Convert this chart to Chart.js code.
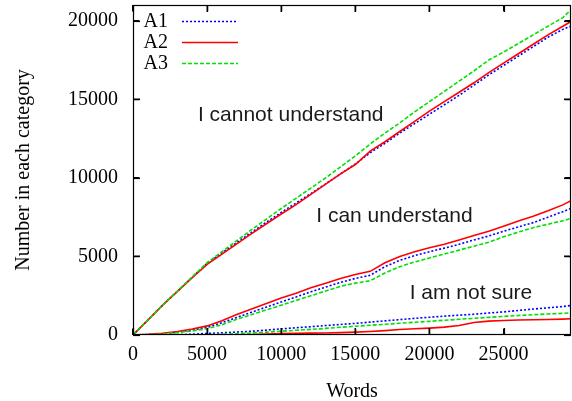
<!DOCTYPE html>
<html>
<head>
<meta charset="utf-8">
<script src="https://cdn.jsdelivr.net/npm/chart.js@4.4.0/dist/chart.umd.min.js"></script>
<style>
  html, body { margin: 0; padding: 0; background: #fff; }
  #wrap { width: 572px; height: 401px; }
</style>
</head>
<body>
<div id="wrap"><canvas id="c" width="572" height="401"></canvas></div>
<script>
// ---- Data ----
const words = [0,1000,2000,3000,4000,5000,6000,7000,8000,9000,10000,11000,12000,13000,14000,15000,16000,17000,18000,19000,20000,21000,22000,23000,24000,25000,26000,27000,28000,29000,29550];

// "I cannot understand"
const cannotA1 = [0,950,1900,2790,3680,4550,5220,5880,6530,7180,7800,8400,9000,9620,10250,10880,11600,12200,12850,13450,14050,14650,15250,15900,16550,17150,17750,18350,18950,19450,19650];
const cannotA2 = [0,950,1900,2780,3650,4500,5150,5800,6450,7080,7700,8300,8950,9600,10250,10850,11700,12300,12950,13600,14250,14850,15450,16050,16700,17300,17900,18500,19100,19650,19950];
const cannotA3 = [0,950,1900,2800,3700,4600,5300,6000,6700,7380,8050,8700,9350,10000,10700,11400,12150,12850,13500,14200,14850,15500,16150,16800,17500,18000,18550,19100,19650,20200,20700];

// "I can understand"
const canA1 = [0,30,90,180,320,480,780,1120,1450,1780,2100,2420,2750,3050,3350,3600,3800,4350,4750,5050,5300,5530,5770,6050,6300,6600,6880,7150,7500,7850,8050];
const canA2 = [0,40,110,220,380,580,900,1300,1650,2000,2350,2650,3000,3300,3600,3850,4050,4600,5000,5300,5550,5780,6050,6330,6600,6920,7250,7560,7900,8280,8550];
const canA3 = [0,20,70,150,260,400,650,1000,1300,1600,1900,2200,2500,2800,3100,3300,3450,3950,4350,4650,4900,5150,5400,5650,5900,6250,6550,6830,7050,7270,7420];

// "I am not sure"
const notSureA1 = [0,0,10,20,50,100,140,190,240,310,390,460,530,600,670,740,820,900,980,1060,1130,1200,1260,1320,1400,1470,1560,1650,1730,1810,1880];
const notSureA2 = [0,0,0,0,0,5,10,20,30,60,100,110,120,130,150,180,220,280,350,400,440,500,600,800,880,920,950,970,990,1010,1030];
const notSureA3 = [0,0,0,5,10,20,40,80,130,180,240,300,360,420,490,560,620,680,750,810,870,940,1000,1060,1120,1180,1240,1290,1340,1380,1410];

const seriesNames = ['A1', 'A2', 'A3'];
const xTicks = [0, 5000, 10000, 15000, 20000, 25000];
const yTicks = [0, 5000, 10000, 15000, 20000];
const xMax = 29550;
const yMax = 21000;
const categoryLabels = ['I cannot understand', 'I can understand', 'I am not sure'];
// label anchor (words, count) for each category text
const categoryLabelX = [10640, 17640, 22800];
const categoryLabelY = [13990, 7570, 2645];

// ---- Styles ----
const colors = { A1: '#0000ff', A2: '#ff0000', A3: '#00e000' };
const dashes = { A1: [2, 2], A2: [], A3: [4, 2] };
const orders = { A1: 3, A2: 2, A3: 1 };

function pts(arr) { return words.map((w, i) => ({ x: w, y: arr[i] })); }
function ds(name, arr) {
  return {
    label: name,
    data: pts(arr),
    borderColor: colors[name],
    borderDash: dashes[name],
    borderWidth: 1.6,
    pointRadius: 0,
    tension: 0,
    fill: false,
    order: orders[name]
  };
}

const datasets = [
  ds('A1', cannotA1), ds('A2', cannotA2), ds('A3', cannotA3),
  ds('A1', canA1), ds('A2', canA2), ds('A3', canA3),
  ds('A1', notSureA1), ds('A2', notSureA2), ds('A3', notSureA3)
];

const serif = "'Liberation Serif', 'Times New Roman', serif";
const sans = "'Liberation Sans', Arial, sans-serif";

function seg(ctx, x1, y1, x2, y2) {
  ctx.beginPath();
  ctx.moveTo(x1, y1);
  ctx.lineTo(x2, y2);
  ctx.stroke();
}

// inward tick marks drawn by the library's own grid
const innerTicks = { display: true, drawOnChartArea: false, drawTicks: true, tickLength: -6, color: '#000', lineWidth: 1.2 };

const framePlugin = {
  id: 'frame',
  afterDraw(chart) {
    const ctx = chart.ctx;
    const sx = chart.scales.x, sy = chart.scales.y;
    const L = Math.round(sx.getPixelForValue(0)) + 0.5;
    const R = Math.round(sx.getPixelForValue(xMax)) - 0.5;
    const T = Math.round(sy.getPixelForValue(yMax)) + 0.5;
    const B = Math.round(sy.getPixelForValue(0)) - 0.5;
    ctx.save();
    ctx.setLineDash([]);
    ctx.strokeStyle = '#000';
    ctx.lineWidth = 1.2;
    ctx.strokeRect(L, T, R - L, B - T);
    // inward ticks as thin rectangles (same call as the frame)
    const tl = 6;
    ctx.lineWidth = 1;
    xTicks.forEach(v => {
      const x = Math.round(sx.getPixelForValue(v));
      ctx.strokeRect(x, B - tl, 0.6, tl);
      ctx.strokeRect(x, T, 0.6, tl);
    });
    yTicks.forEach(v => {
      const y = Math.round(sy.getPixelForValue(v));
      ctx.strokeRect(L, y, tl, 0.6);
      ctx.strokeRect(R - tl, y, tl, 0.6);
    });

    // category texts
    ctx.fillStyle = '#1a1a1a';
    ctx.font = '21px ' + sans;
    ctx.textAlign = 'center';
    ctx.textBaseline = 'middle';
    categoryLabels.forEach((t, i) => {
      ctx.fillText(t, sx.getPixelForValue(categoryLabelX[i]), sy.getPixelForValue(categoryLabelY[i]));
    });

    // key
    ctx.font = '20px ' + serif;
    ctx.textAlign = 'right';
    ctx.fillStyle = '#000';
    seriesNames.forEach((n, i) => {
      const y = 21 + i * 21;
      ctx.fillText(n, 168, y + 1);
      ctx.strokeStyle = colors[n];
      ctx.lineWidth = 1.6;
      ctx.setLineDash(dashes[n]);
      seg(ctx, 182, y + 0.5, 238, y + 0.5);
      ctx.setLineDash([]);
    });
    ctx.restore();
  }
};

new Chart(document.getElementById('c'), {
  type: 'line',
  data: { datasets },
  options: {
    responsive: false,
    animation: false,
    layout: { padding: { top: 5, right: 1, left: 0, bottom: 0 } },
    plugins: { legend: { display: false }, tooltip: { enabled: false } },
    scales: {
      x: {
        type: 'linear',
        position: 'bottom',
        min: 0,
        max: xMax,
        afterBuildTicks: s => { s.ticks = xTicks.map(v => ({ value: v })); },
        afterFit: s => { s.height = 66; s.paddingLeft = 0; s.paddingRight = 0; },
        ticks: {
          includeBounds: false,
          color: '#000',
          font: { family: serif, size: 20 },
          padding: 14,
          maxRotation: 0,
          callback: v => String(v)
        },
        grid: innerTicks,
        border: { display: false },
        title: {
          display: true,
          text: 'Words',
          color: '#000',
          font: { family: serif, size: 20 },
          padding: { top: 0, bottom: -3 }
        }
      },
      x2: {
        type: 'linear',
        axis: 'x',
        position: 'top',
        min: 0,
        max: xMax,
        afterBuildTicks: s => { s.ticks = xTicks.map(v => ({ value: v })); },
        afterFit: s => { s.height = 0; s.paddingLeft = 0; s.paddingRight = 0; },
        ticks: { display: false, includeBounds: false },
        grid: innerTicks,
        border: { display: false }
      },
      y: {
        type: 'linear',
        position: 'left',
        min: 0,
        max: yMax,
        afterBuildTicks: s => { s.ticks = yTicks.map(v => ({ value: v })); },
        afterFit: s => { s.width = 133; s.paddingTop = 0; s.paddingBottom = 0; },
        ticks: {
          includeBounds: false,
          color: '#000',
          font: { family: serif, size: 20 },
          padding: 21,
          callback: v => String(v)
        },
        grid: innerTicks,
        border: { display: false },
        title: {
          display: true,
          text: 'Number in each category',
          color: '#000',
          font: { family: serif, size: 20 },
          padding: { top: 12, bottom: 0 }
        }
      },
      y2: {
        type: 'linear',
        axis: 'y',
        position: 'right',
        min: 0,
        max: yMax,
        afterBuildTicks: s => { s.ticks = yTicks.map(v => ({ value: v })); },
        afterFit: s => { s.width = 0; s.paddingTop = 0; s.paddingBottom = 0; },
        ticks: { display: false, includeBounds: false },
        grid: innerTicks,
        border: { display: false }
      }
    }
  },
  plugins: [framePlugin]
});
</script>
</body>
</html>
